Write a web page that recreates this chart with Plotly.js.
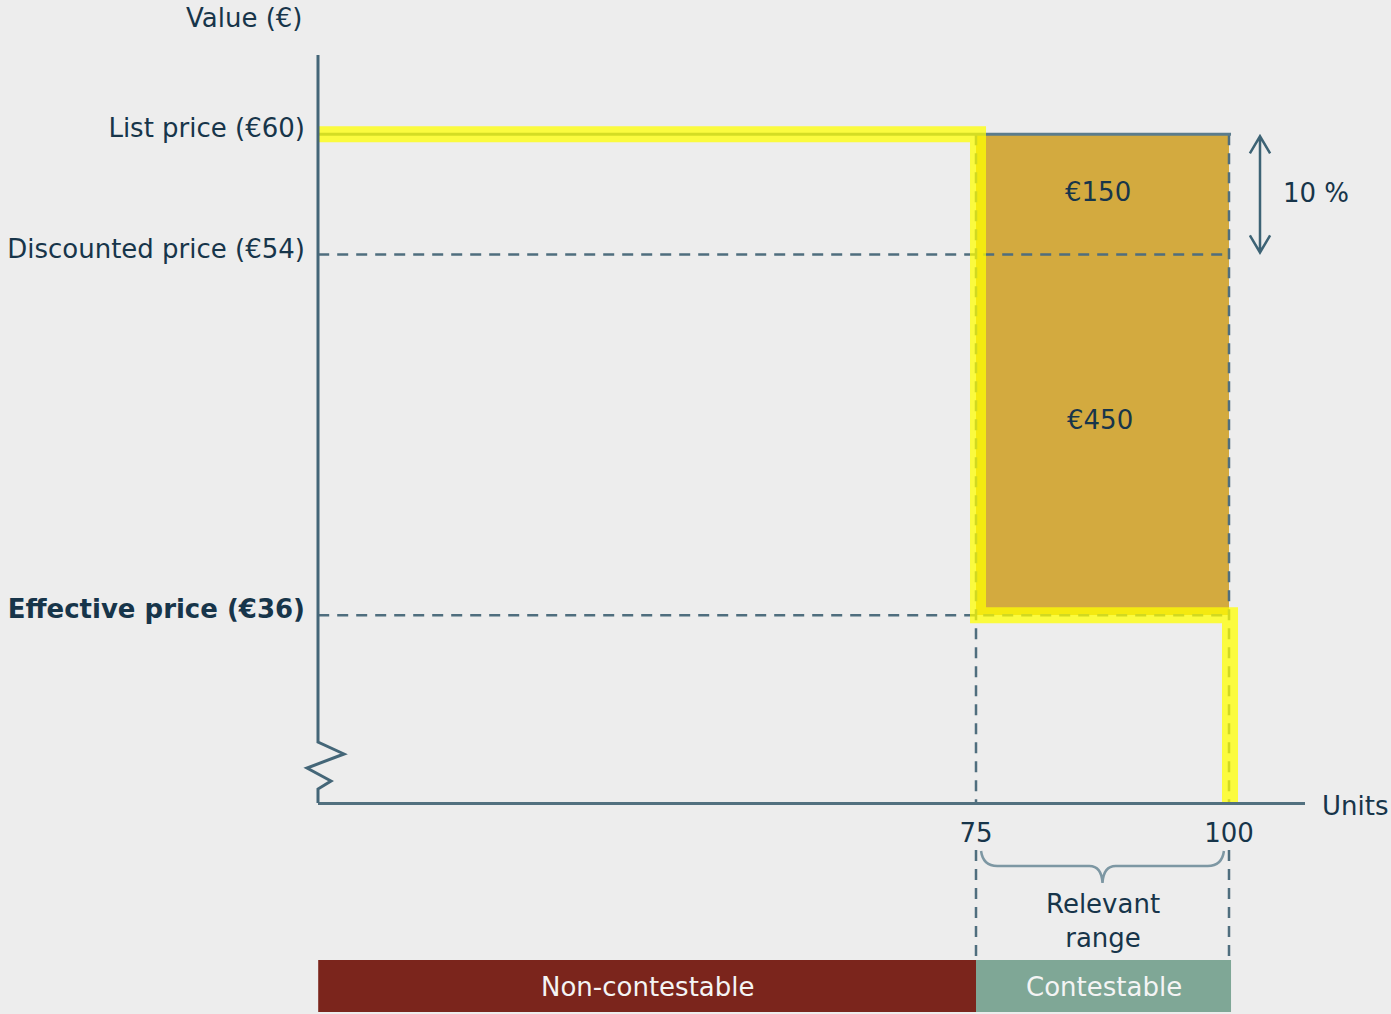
<!DOCTYPE html>
<html>
<head>
<meta charset="utf-8">
<script src="https://cdn.plot.ly/plotly-3.0.1.min.js"></script>
<style>html,body{margin:0;padding:0;background:#ededed;}</style>
</head>
<body>
<div id="chart" style="width:1391px;height:1014px;"></div>
<script>
// ---- data ----
const priceLevels = [60, 54, 36];            // list, discounted, effective (€)
const priceLabels = ['List price (€60)', 'Discounted price (€54)', '<b>Effective price (€36)</b>'];
const unitTicks = [75, 100];                  // contestable range bounds (units)
const unitTickLabels = ['75', '100'];
const axisStartUnits = 10;                    // broken axis start
const segmentNames = ['Non-contestable', 'Contestable'];
const segmentColors = ['#7b251c', '#7fa796'];

const [listP, discP, effP] = priceLevels;
const [u0, u1] = unitTicks;

// ---- layout helpers (pixel -> paper / axis), for decorations only ----
const W = 1391, H = 1014, L = 318, R = 86;
const plotW = W - L - R;
const pxPerUnit = 10.12;
const xFromPx = px => u0 + (px - 976) / pxPerUnit;
const paperX = px => (px - L) / plotW;
const paperY = py => 1 - py / H;
const yTop = 66.7, yBot = 16.1;
const yFromPx = py => yTop - py * (yTop - yBot) / H;
const axisY = yFromPx(803);
const belowLabelY = yFromPx(850);
const bandTopY = yFromPx(960);

const navy = '#17354a';
const slate = '#4f6e7e';
const font = 'DejaVu Sans, Verdana, sans-serif';

const dash = '11px,8px';
const dashed = (x, y) => ({type: 'scatter', mode: 'lines', x: x, y: y,
  line: {color: slate, width: 2.5, dash: dash}, hoverinfo: 'skip', showlegend: false});
const traces = [
  // contested value rectangle
  {type: 'bar', x: [(u0 + u1) / 2], width: [u1 - u0], base: [effP], y: [listP - effP],
   marker: {color: '#d3aa3f', line: {width: 0}}, hoverinfo: 'skip', showlegend: false},
  // dashed reference lines
  dashed([axisStartUnits, u1], [discP, discP]),
  dashed([axisStartUnits, u1], [effP, effP]),
  dashed([u0, u0], [listP, axisY]),
  dashed([u1, u1], [listP, axisY]),
  dashed([u0, u0], [belowLabelY, bandTopY]),
  dashed([u1, u1], [belowLabelY, bandTopY]),
  // list price solid line
  {type: 'scatter', mode: 'lines', x: [axisStartUnits, u1 + 0.2], y: [listP, listP],
   line: {color: '#5b7c8c', width: 3}, hoverinfo: 'skip', showlegend: false},
  // highlighted price curve
  {type: 'scatter', mode: 'lines', x: [axisStartUnits, u0 + 0.2, u0 + 0.2, u1 + 0.1, u1 + 0.1], y: [listP, listP, effP, effP, axisY],
   line: {color: 'rgba(255,255,0,0.74)', width: 16}, hoverinfo: 'skip', showlegend: false}
];

const shapes = [];
// y axis with break zigzag
const zz = [[318,55],[318,742],[344,754],[307,768],[331,781],[318,789],[318,803]];
shapes.push({type: 'path', xref: 'paper', yref: 'paper',
  path: zz.map((p, i) => (i ? 'L' : 'M') + paperX(p[0]).toFixed(5) + ',' + paperY(p[1]).toFixed(5)).join(' '),
  line: {color: '#446678', width: 3}});
// double arrow for 10 %
const ax = xFromPx(1260), dx = 1.0, dy = 0.85;
const aTop = listP - 0.1, aBot = discP + 0.1;
shapes.push({type: 'path', xref: 'x', yref: 'y', line: {color: '#3d6375', width: 2.5},
  path: `M ${ax},${aTop} L ${ax},${aBot} M ${ax - dx},${aTop - dy} L ${ax},${aTop} L ${ax + dx},${aTop - dy} M ${ax - dx},${aBot + dy} L ${ax},${aBot} L ${ax + dx},${aBot + dy}`});
// brace under relevant range
const by0 = paperY(851), by1 = paperY(866), by2 = paperY(883), mid = (u0 + u1) / 2;
const bl = u0 + 0.5, br = u1 - 0.5;
shapes.push({type: 'path', xref: 'x', yref: 'paper', line: {color: '#7d97a3', width: 2.5},
  path: `M ${bl},${by0} Q ${bl + 0.2},${by1} ${bl + 1.6},${by1} L ${mid - 1.3},${by1} Q ${mid - 0.1},${by1} ${mid},${by2} Q ${mid + 0.1},${by1} ${mid + 1.3},${by1} L ${br - 1.6},${by1} Q ${br - 0.2},${by1} ${br},${by0}`});
// contestability bands
const segBounds = [axisStartUnits, u0, u1 + 0.2];
segmentNames.forEach((n, i) => {
  shapes.push({type: 'rect', xref: 'x', yref: 'paper', x0: segBounds[i], x1: segBounds[i + 1],
    y0: paperY(1012), y1: paperY(960), fillcolor: segmentColors[i], line: {width: 0}, layer: 'below'});
});

const annotations = [
  {xref: 'paper', yref: 'paper', x: paperX(305), y: paperY(18), xanchor: 'right', yanchor: 'middle',
   text: 'Value (€)', showarrow: false, font: {size: 26, color: navy}},
  {xref: 'paper', yref: 'paper', x: paperX(1320), y: paperY(806), xanchor: 'left', yanchor: 'middle',
   text: 'Units', showarrow: false, font: {size: 26, color: navy}},
  {xref: 'x', yref: 'y', x: mid - 0.4, y: (listP + discP) / 2 + 0.1, text: '€' + (listP - discP) * (u1 - u0),
   showarrow: false, font: {size: 26, color: navy}},
  {xref: 'x', yref: 'y', x: mid - 0.2, y: (discP + effP) / 2 + 0.75, text: '€' + (discP - effP) * (u1 - u0),
   showarrow: false, font: {size: 26, color: navy}},
  {xref: 'x', yref: 'y', x: xFromPx(1281), y: (listP + discP) / 2 + 0.05, xanchor: 'left',
   text: Math.round((listP - discP) / listP * 100) + ' %', showarrow: false, font: {size: 26, color: navy}},
  {xref: 'x', yref: 'paper', x: mid, y: paperY(921), yanchor: 'middle', text: 'Relevant<br>range',
   showarrow: false, font: {size: 26, color: navy}}
];
segmentNames.forEach((n, i) => {
  annotations.push({xref: 'x', yref: 'paper', x: (segBounds[i] + segBounds[i + 1]) / 2, y: paperY(987),
    yanchor: 'middle', text: n, showarrow: false, font: {size: 26, color: '#f4f4f4'}});
});

const layout = {
  width: W, height: H,
  margin: {l: L, r: R, t: 0, b: 0, pad: 0},
  paper_bgcolor: '#ededed', plot_bgcolor: '#ededed',
  font: {family: font, color: navy},
  showlegend: false,
  xaxis: {range: [xFromPx(L), xFromPx(W - R)], anchor: 'free', position: paperY(803),
    showline: true, linecolor: '#52707f', linewidth: 3, showgrid: false, zeroline: false,
    tickvals: unitTicks, ticktext: unitTickLabels, ticks: '', ticklabelstandoff: 6,
    tickfont: {size: 26, color: navy}, fixedrange: true},
  yaxis: {range: [yBot, yTop], showline: false, showgrid: false, zeroline: false,
    tickvals: priceLevels, ticktext: priceLabels, ticks: '', ticklabelstandoff: 12, ticklabelshift: -6,
    tickfont: {size: 26, color: navy}, fixedrange: true},
  bargap: 0,
  shapes: shapes,
  annotations: annotations
};

Plotly.newPlot('chart', traces, layout, {displayModeBar: false, staticPlot: true});
</script>
</body>
</html>
